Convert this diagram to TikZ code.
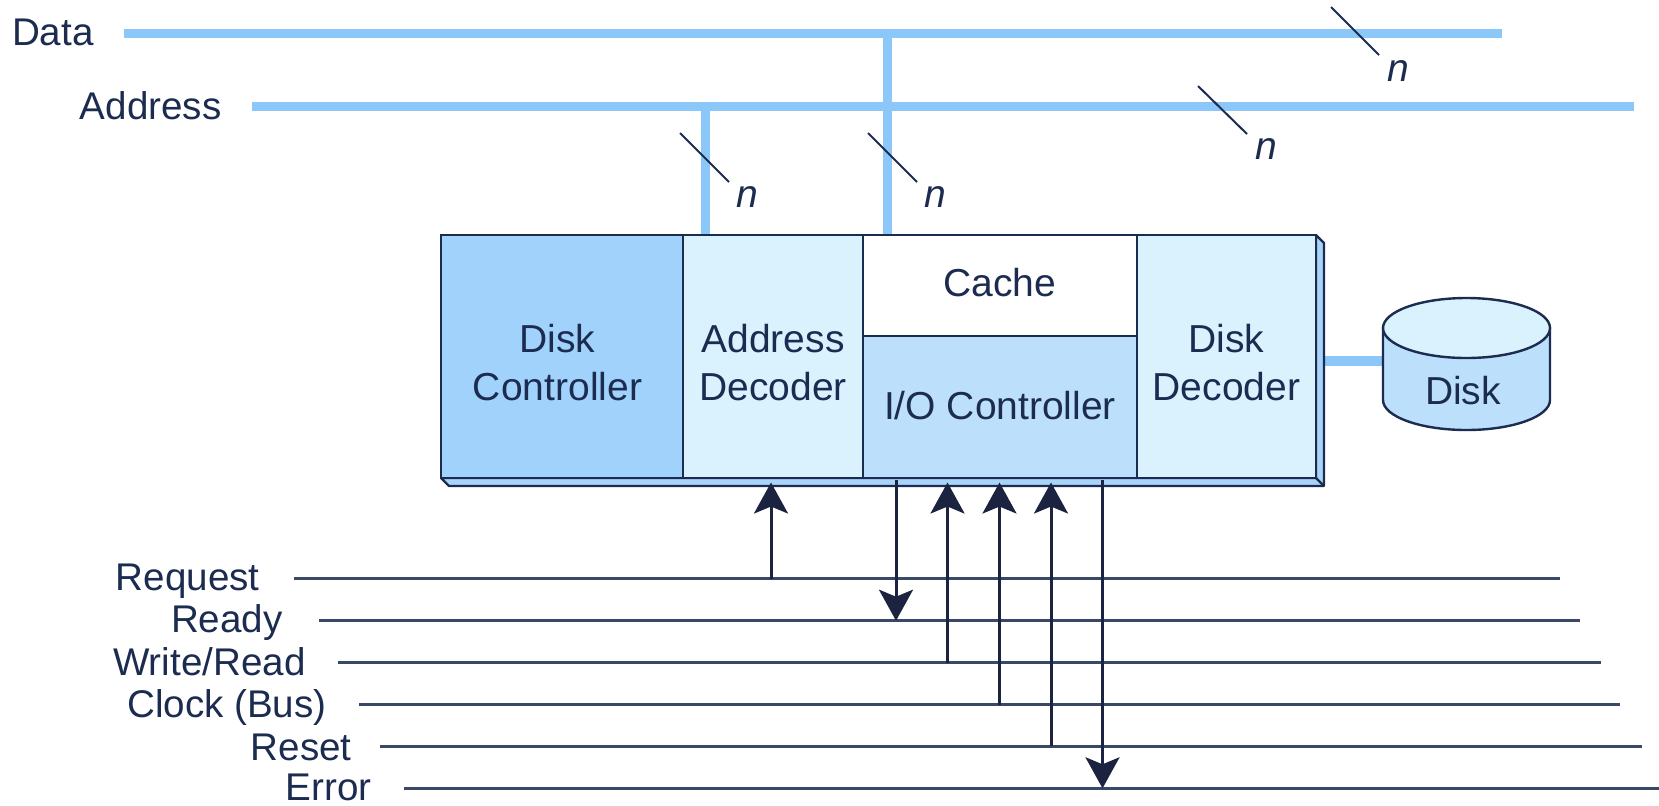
\documentclass[tikz,border=0pt]{standalone}
\usepackage{fontspec}
\setmainfont{Liberation Sans}
\usetikzlibrary{arrows.meta}
\definecolor{ink}{HTML}{1C2C50}
\definecolor{sigline}{HTML}{3A4868}
\definecolor{headink}{HTML}{1B2340}
\definecolor{busblue}{HTML}{8CC7F9}
\definecolor{ctrlblue}{HTML}{A0D2FC}
\definecolor{palecell}{HTML}{DAF1FE}
\definecolor{iocell}{HTML}{BCE0FC}
\definecolor{sidebar}{HTML}{A8D4FA}
\newcommand{\twolines}[2]{\raisebox{-10.2pt}[0pt][0pt]{\begin{tabular}{@{}c@{}}#1\\#2\end{tabular}}}
\tikzset{
  x=0.5pt,y=-0.5pt,
  every node/.style={font=\fontsize{19.5}{24}\selectfont,text=ink},
  cell/.style={draw=ink,line width=1.1pt,inner sep=0pt,outer sep=0pt},
  lbl/.style={anchor=base east,inner sep=0pt,font=\fontsize{19.3}{23.5}\selectfont},
  mid/.style={anchor=base,inner sep=0pt},
  nlbl/.style={inner sep=0pt,font=\fontsize{19.5}{23.5}\selectfont\itshape},
  bus/.style={draw=busblue,line width=4.6pt},
  sigwire/.style={draw=sigline,line width=1.25pt},
  tickmark/.style={draw=ink,line width=1pt},
  sigarrow/.style={draw=headink,line width=1.5pt,-{Stealth[length=15.5pt,width=17pt,inset=3.5pt]}},
}
\begin{document}
\begin{tikzpicture}
\useasboundingbox (0,0) rectangle (1659,805);
% coordinates
\coordinate (dataL) at (124,33.5);
\coordinate (dataR) at (1502,33.5);
\coordinate (addrL) at (252,106.5);
\coordinate (addrR) at (1634,106.5);
\coordinate (addrJ) at (705.5,106.5);
\coordinate (dataJ) at (887.5,33.5);
\coordinate (addrE) at (705.5,235);
\coordinate (dataE) at (887.5,235);
\coordinate (sideE) at (1324,361);
\coordinate (diskE) at (1383,361);
% buses
\draw[bus] (dataL) -- (dataR);
\draw[bus] (addrL) -- (addrR);
\draw[bus] (dataJ) -- (dataE);
\draw[bus] (addrJ) -- (addrE);
\draw[bus] (sideE) -- (diskE);
% controller box
\draw[cell,fill=sidebar,line join=round] (441,478) -- (449,486) -- (1324,486) -- (1324,243) -- (1316,235) -- (1316,478) -- cycle;
\draw[cell] (1316,478) -- (1324,486);
\node[cell,fill=ctrlblue,minimum width=121pt,minimum height=121.5pt] (dc) at (562,356.5) {\hspace{-4.5pt}\twolines{Disk}{Controller}};
\node[cell,fill=palecell,minimum width=90pt,minimum height=121.5pt] (ad) at (773,356.5) {\twolines{Address}{Decoder}};
\node[cell,fill=white,minimum width=137pt,minimum height=50.5pt] (cache) at (1000,285.5) {\raisebox{-5.7pt}[0pt][0pt]{Cache}};
\node[cell,fill=iocell,minimum width=137pt,minimum height=71pt] (io) at (1000,407) {\raisebox{-6pt}[0pt][0pt]{I/O Controller}};
\node[cell,fill=palecell,minimum width=89.5pt,minimum height=121.5pt] (dd) at (1226.5,356.5) {\twolines{Disk}{Decoder}};
% disk
\filldraw[draw=ink,line width=1.2pt,fill=iocell] (1383,328) -- (1383,400) arc[start angle=180,end angle=360,x radius=83.5,y radius=-30] -- (1550,328) -- cycle;
\filldraw[draw=ink,line width=1.2pt,fill=palecell] (1466.5,328) ellipse[x radius=83.5,y radius=-30];
\node[mid] (disk) at (1463,404) {Disk};
% ticks
\coordinate (t1a) at (680,133); \coordinate (t1b) at (729,182);
\coordinate (t2a) at (868,133); \coordinate (t2b) at (917,182);
\coordinate (t3a) at (1198,86); \coordinate (t3b) at (1247,134);
\coordinate (t4a) at (1331,7);  \coordinate (t4b) at (1379,55);
\draw[tickmark] (t1a) -- (t1b);
\draw[tickmark] (t2a) -- (t2b);
\draw[tickmark] (t3a) -- (t3b);
\draw[tickmark] (t4a) -- (t4b);
\node[nlbl] (n1) at (747,197) {n};
\node[nlbl] (n2) at (935,197) {n};
\node[nlbl] (n3) at (1266,149) {n};
\node[nlbl] (n4) at (1398,71) {n};
% bus labels
\node[lbl] (ldata) at (94,45) {Data};
\node[lbl] (laddr) at (222,119) {Address};
% signal lines
\node[lbl] (lreq) at (260,590) {Request};
\node[lbl] (lrdy) at (283,632.5) {Ready};
\node[lbl] (lwr) at (306,675) {Write/Read};
\node[lbl] (lclk) at (327,717.5) {Clock (Bus)};
\node[lbl] (lrst) at (352,760) {Reset};
\node[lbl] (lerr) at (372,800) {Error};
\coordinate (s1L) at (294,578.7); \coordinate (s1R) at (1560,578.7);
\coordinate (s2L) at (319,620.7); \coordinate (s2R) at (1579.5,620.7);
\coordinate (s3L) at (338,662.7); \coordinate (s3R) at (1601,662.7);
\coordinate (s4L) at (359,704.5); \coordinate (s4R) at (1620,704.5);
\coordinate (s5L) at (380,746.3); \coordinate (s5R) at (1642,746.3);
\coordinate (s6L) at (404,788.3); \coordinate (s6R) at (1659,788.3);
\foreach \i in {1,...,6} \draw[sigwire] (s\i L) -- (s\i R);
% arrows
\coordinate (a1) at (771,578.7);  \coordinate (a1t) at (771,482.5);
\coordinate (a2) at (896,620.7);  \coordinate (a2t) at (896,480);
\coordinate (a3) at (947.5,662.7);\coordinate (a3t) at (947.5,482.5);
\coordinate (a4) at (999.5,704.5);\coordinate (a4t) at (999.5,482.5);
\coordinate (a5) at (1051,746.3); \coordinate (a5t) at (1051,482.5);
\coordinate (a6) at (1102.5,788.3);\coordinate (a6t) at (1102.5,480);
\draw[sigarrow] (a1) -- (a1t);
\draw[sigarrow] (a2t) -- (a2);
\draw[sigarrow] (a3) -- (a3t);
\draw[sigarrow] (a4) -- (a4t);
\draw[sigarrow] (a5) -- (a5t);
\draw[sigarrow] (a6t) -- (a6);
\end{tikzpicture}
\end{document}
